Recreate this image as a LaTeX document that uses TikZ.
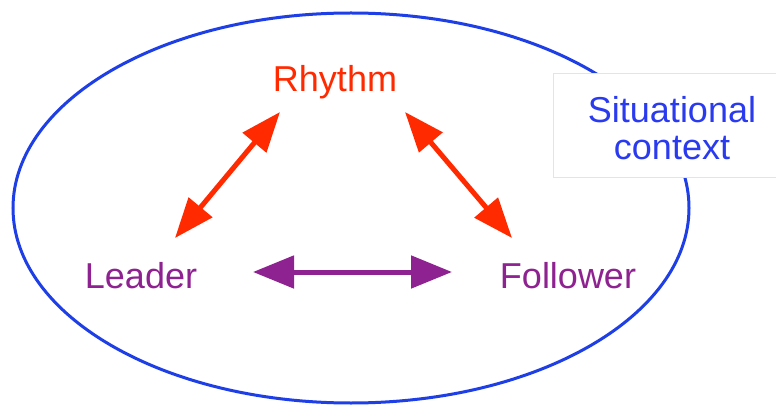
\documentclass[tikz,border=0pt]{standalone}
\usepackage{fontspec}
\setmainfont{Liberation Sans}
\usetikzlibrary{arrows.meta}
\definecolor{ellblue}{HTML}{1F3FE6}
\definecolor{txtblue}{HTML}{2A3BEF}
\definecolor{rred}{HTML}{FF2A00}
\definecolor{ppl}{HTML}{8E2290}
\definecolor{boxgray}{HTML}{E4E4E4}
\tikzset{
  lbl/.style={inner sep=0pt, anchor=base, font=\fontsize{36}{37}\selectfont},
  redarrow/.style={rred, line width=5pt, {Triangle[length=40pt,width=30pt]}-{Triangle[length=40pt,width=30pt]}},
  pplarrow/.style={ppl, line width=5pt, {Triangle[length=41pt,width=32pt]}-{Triangle[length=41pt,width=32pt]}},
}
\begin{document}
\begin{tikzpicture}[x=1pt,y=-1pt]
\useasboundingbox[fill=white] (0,0) rectangle (776,406);
\draw[ellblue, line width=3pt] (351,208) ellipse [x radius=338, y radius=195];
\node[draw=boxgray, line width=1pt, fill=white, minimum width=230pt, minimum height=104pt, anchor=north west] (boxctx) at (553,73) {};
\node[lbl, txtblue, align=center] (ctx) at (672,160) {Situational\\context};
\node[lbl, rred] (rhythm) at (335,92) {Rhythm};
\node[lbl, ppl] (leader) at (141,288) {Leader};
\node[lbl, ppl] (follower) at (568,288) {Follower};
\coordinate (rl) at (280,112);
\coordinate (lr) at (175,238);
\coordinate (rf) at (405,112);
\coordinate (fr) at (512,238);
\coordinate (lf) at (253,272);
\coordinate (fl) at (452,272);
\draw[redarrow] (rl) -- (lr);
\draw[redarrow] (rf) -- (fr);
\draw[pplarrow] (lf) -- (fl);
\end{tikzpicture}
\end{document}
